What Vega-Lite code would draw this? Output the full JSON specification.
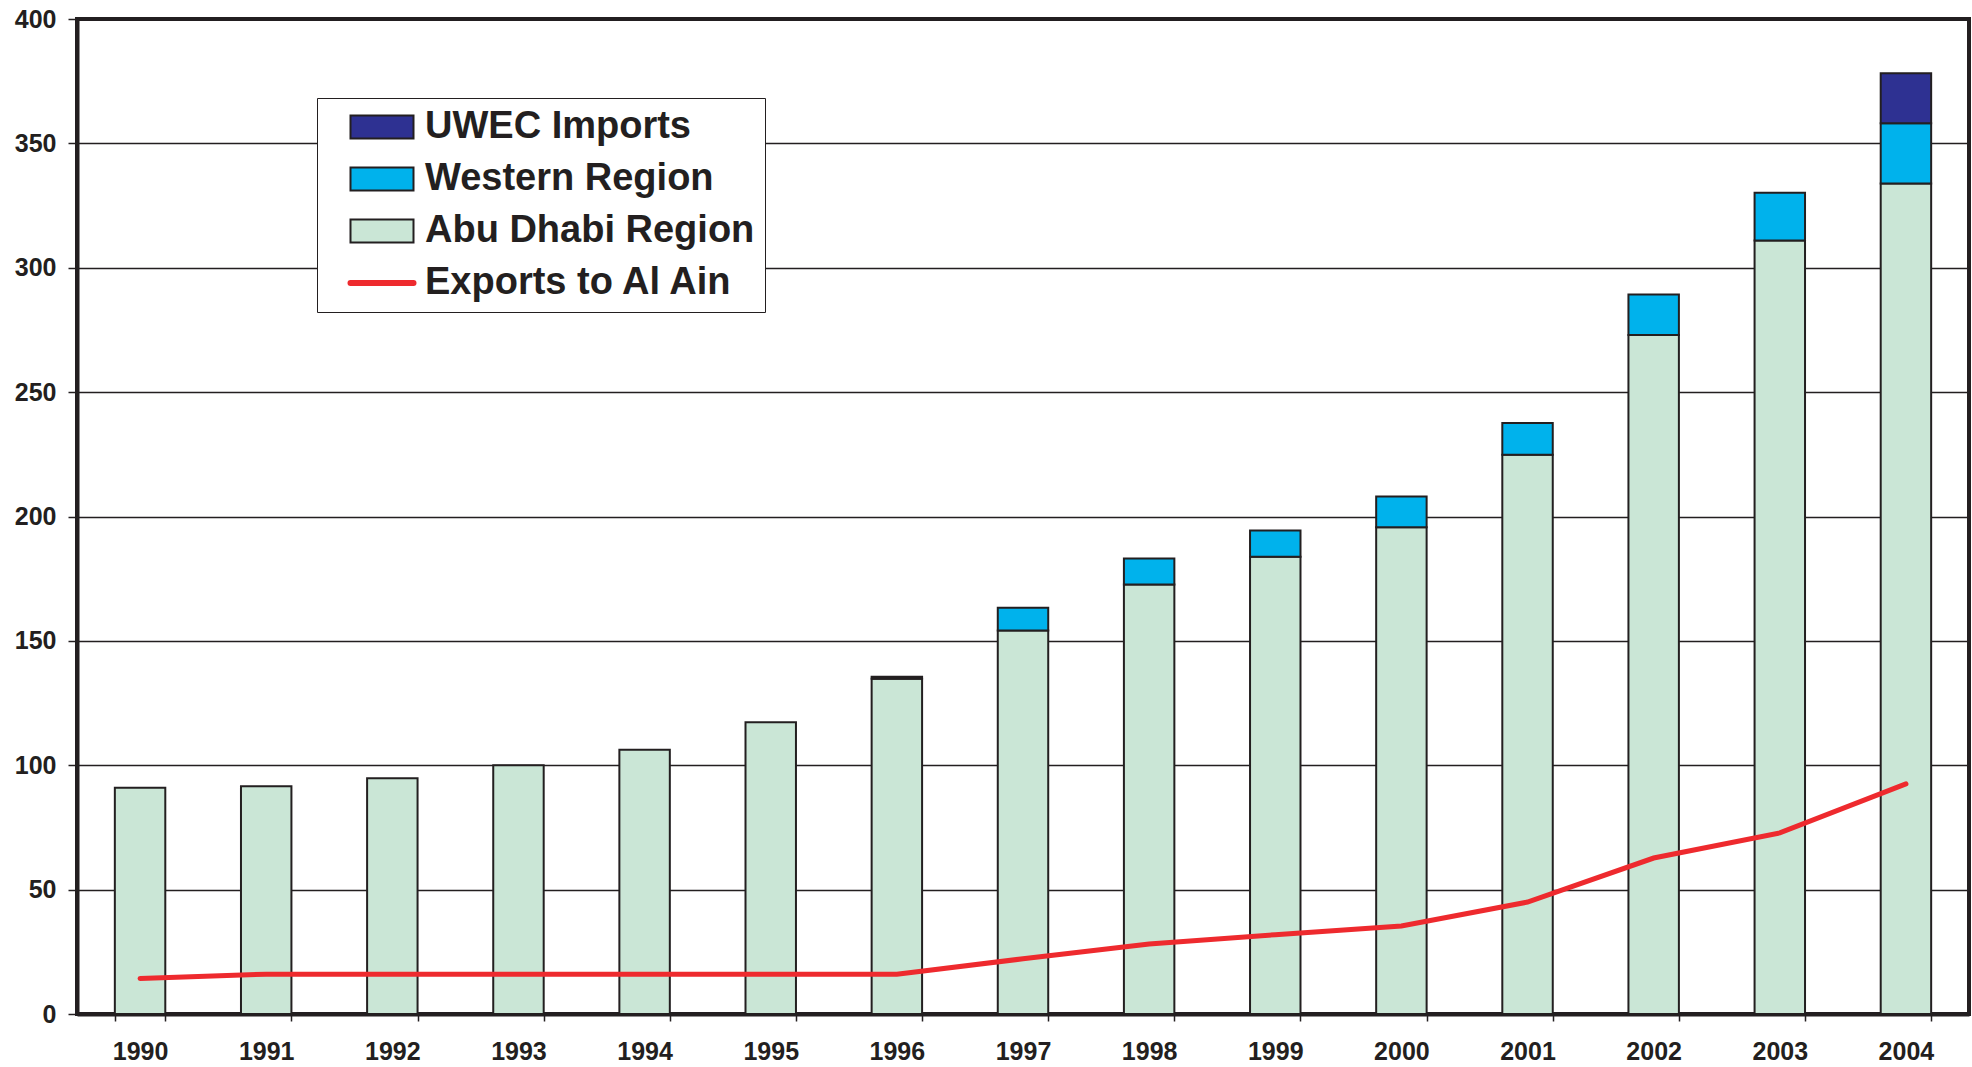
{
  "$schema": "https://vega.github.io/schema/vega-lite/v6.json",
  "width": 1892,
  "height": 995,
  "autosize": "none",
  "padding": {"left": 77, "top": 19, "right": 3, "bottom": 53},
  "background": "white",
  "config": {
    "view": {"stroke": "#231f20", "strokeWidth": 4},
    "font": "Liberation Sans"
  },
  "datasets": {
    "bars": [
      {"year": "1990", "series": "Abu Dhabi Region", "value": 91},
      {"year": "1991", "series": "Abu Dhabi Region", "value": 91.6},
      {"year": "1992", "series": "Abu Dhabi Region", "value": 94.8},
      {"year": "1993", "series": "Abu Dhabi Region", "value": 100},
      {"year": "1994", "series": "Abu Dhabi Region", "value": 106.2},
      {"year": "1995", "series": "Abu Dhabi Region", "value": 117.3},
      {"year": "1996", "series": "Abu Dhabi Region", "value": 134.8},
      {"year": "1996", "series": "Western Region", "value": 0.8},
      {"year": "1997", "series": "Abu Dhabi Region", "value": 154.2},
      {"year": "1997", "series": "Western Region", "value": 9.1},
      {"year": "1998", "series": "Abu Dhabi Region", "value": 172.7},
      {"year": "1998", "series": "Western Region", "value": 10.4},
      {"year": "1999", "series": "Abu Dhabi Region", "value": 183.8},
      {"year": "1999", "series": "Western Region", "value": 10.6},
      {"year": "2000", "series": "Abu Dhabi Region", "value": 195.7},
      {"year": "2000", "series": "Western Region", "value": 12.3},
      {"year": "2001", "series": "Abu Dhabi Region", "value": 224.8},
      {"year": "2001", "series": "Western Region", "value": 12.8},
      {"year": "2002", "series": "Abu Dhabi Region", "value": 273},
      {"year": "2002", "series": "Western Region", "value": 16.2},
      {"year": "2003", "series": "Abu Dhabi Region", "value": 311},
      {"year": "2003", "series": "Western Region", "value": 19.2},
      {"year": "2004", "series": "Abu Dhabi Region", "value": 333.9},
      {"year": "2004", "series": "Western Region", "value": 24.2},
      {"year": "2004", "series": "UWEC Imports", "value": 20.1}
    ],
    "exports": [
      {"year": "1990", "series": "Exports to Al Ain", "value": 14.3},
      {"year": "1991", "series": "Exports to Al Ain", "value": 16},
      {"year": "1992", "series": "Exports to Al Ain", "value": 16},
      {"year": "1993", "series": "Exports to Al Ain", "value": 16},
      {"year": "1994", "series": "Exports to Al Ain", "value": 16},
      {"year": "1995", "series": "Exports to Al Ain", "value": 16},
      {"year": "1996", "series": "Exports to Al Ain", "value": 16},
      {"year": "1997", "series": "Exports to Al Ain", "value": 22.2},
      {"year": "1998", "series": "Exports to Al Ain", "value": 28.1},
      {"year": "1999", "series": "Exports to Al Ain", "value": 31.9},
      {"year": "2000", "series": "Exports to Al Ain", "value": 35.4},
      {"year": "2001", "series": "Exports to Al Ain", "value": 45},
      {"year": "2002", "series": "Exports to Al Ain", "value": 62.7},
      {"year": "2003", "series": "Exports to Al Ain", "value": 72.8},
      {"year": "2004", "series": "Exports to Al Ain", "value": 92.5}
    ]
  },
  "encoding": {
    "x": {
      "field": "year",
      "type": "ordinal",
      "scale": {"paddingInner": 0.6, "paddingOuter": 0.3},
      "axis": {
        "title": null,
        "labelAngle": 0,
        "labelFont": "Liberation Sans",
        "labelFontWeight": "bold",
        "labelFontSize": 25,
        "labelColor": "#231f20",
        "labelPadding": 18,
        "tickBand": "extent",
        "tickSize": 7,
        "tickColor": "#231f20",
        "tickWidth": 1.5,
        "domainColor": "#231f20",
        "domainWidth": 4,
        "grid": false
      }
    }
  },
  "layer": [
    {
      "data": {"name": "bars"},
      "transform": [
        {"calculate": "indexof(['Abu Dhabi Region','Western Region','UWEC Imports'], datum.series)", "as": "stackorder"}
      ],
      "mark": {"type": "bar", "stroke": "#231f20", "strokeWidth": 2},
      "encoding": {
        "y": {
          "field": "value",
          "type": "quantitative",
          "stack": "zero",
          "scale": {"domain": [0, 400], "nice": false},
          "axis": {
            "title": null,
            "values": [0, 50, 100, 150, 200, 250, 300, 350, 400],
            "labelFont": "Liberation Sans",
            "labelFontWeight": "bold",
            "labelFontSize": 25,
            "labelColor": "#231f20",
            "labelPadding": 12,
            "tickSize": 9,
            "tickColor": "#231f20",
            "tickWidth": 1.5,
            "domainColor": "#231f20",
            "domainWidth": 4,
            "grid": true,
            "gridColor": "#231f20",
            "gridWidth": 1.5,
            "gridOpacity": 1
          }
        },
        "order": {"field": "stackorder", "type": "quantitative", "sort": "ascending"},
        "color": {
          "field": "series",
          "type": "nominal",
          "scale": {
            "domain": ["UWEC Imports", "Western Region", "Abu Dhabi Region", "Exports to Al Ain"],
            "range": ["#2e3192", "#00b2ec", "#cae6d6", "#ee2a2e"]
          },
          "legend": {
            "title": null,
            "orient": "none",
            "legendX": 240,
            "legendY": 79,
            "padding": 10,
            "fillColor": "white",
            "strokeColor": "#231f20",
            "labelFont": "Liberation Sans",
            "labelFontWeight": "bold",
            "labelFontSize": 38,
            "labelColor": "#231f20",
            "labelLimit": 700,
            "labelOffset": 24,
            "labelExpr": "datum.label + '  '",
            "rowPadding": 14,
            "symbolSize": 3969,
            "symbolOffset": 36,
            "symbolType": "M-1,-0.365H1V0.365H-1Z",
            "symbolStrokeColor": "#231f20",
            "symbolStrokeWidth": 2,
            "symbolOpacity": 1,
            "encode": {
              "symbols": {
                "update": {
                  "shape": {"signal": "datum.value === 'Exports to Al Ain' ? 'M-1,0H1' : 'M-1,-0.365H1V0.365H-1Z'"},
                  "fill": {"signal": "datum.value === 'Exports to Al Ain' ? 'transparent' : scale('color', datum.value)"},
                  "stroke": {"signal": "datum.value === 'Exports to Al Ain' ? '#ee2a2e' : '#231f20'"},
                  "strokeWidth": {"signal": "datum.value === 'Exports to Al Ain' ? 6 : 2"},
                  "strokeCap": {"value": "round"}
                }
              }
            }
          }
        }
      }
    },
    {
      "data": {"name": "exports"},
      "mark": {"type": "line", "strokeWidth": 5, "strokeCap": "round", "color": "#ee2a2e"},
      "encoding": {
        "y": {"field": "value", "type": "quantitative"}
      }
    }
  ]
}
